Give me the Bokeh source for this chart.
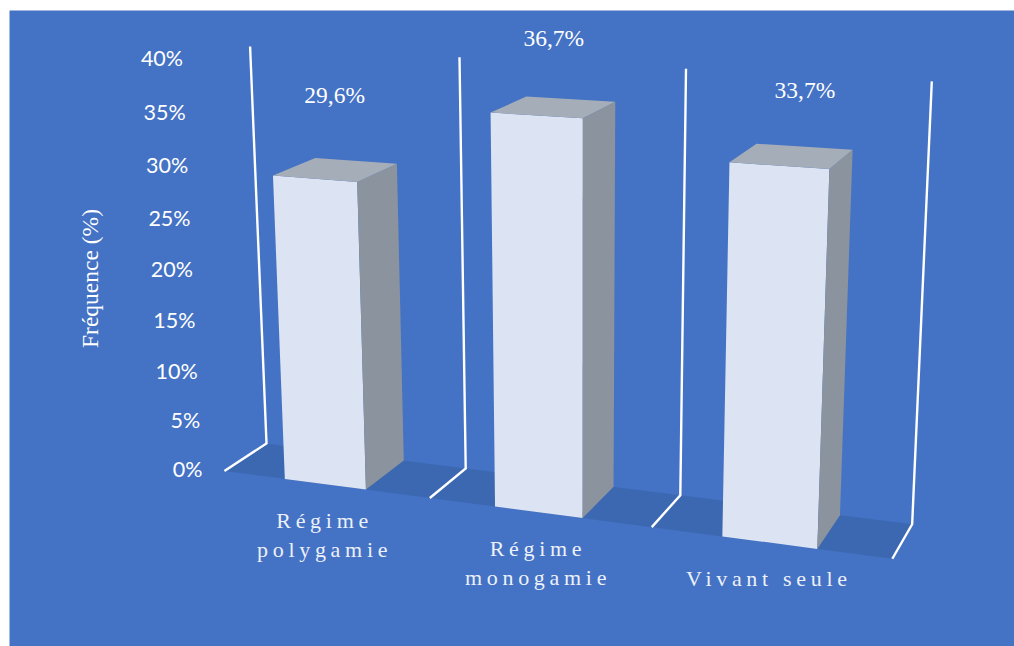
import numpy as np
from bokeh.core.properties import value
from bokeh.embed import file_html
from bokeh.models import Range1d
from bokeh.plotting import figure
from bokeh.resources import INLINE

# Chart content
CATEGORIES = ["Régime\npolygamie", "Régime\nmonogamie", "Vivant seule"]
FREQUENCIES = [29.6, 36.7, 33.7]
VALUE_LABELS = ["29,6%", "36,7%", "33,7%"]
TICK_VALUES = [0, 5, 10, 15, 20, 25, 30, 35, 40]
TICK_LABELS = ["0%", "5%", "10%", "15%", "20%", "25%", "30%", "35%", "40%"]
AXIS_TITLE = "Fréquence (%)"

# Colours
WHITE = "#FFFFFF"
PANEL = "#4472C4"
FLOOR = "#3C68B1"
FACE_FRONT = "#DCE3F2"
FACE_SIDE = "#8A939E"
FACE_TOP = "#A5ADB8"

# Camera calibration: world points (slot, percent, depth) and where the frame
# of the 3D scene falls on the page.
CALIB_WORLD = [
    (0, 0, 0), (1, 0, 0), (2, 0, 0), (3, 0, 0),
    (0, 0, 1), (1, 0, 1), (2, 0, 1), (3, 0, 1),
    (0, 40, 1), (1, 40, 1), (2, 40, 1), (3, 40, 1),
    (0, 40, 0),
]
CALIB_PAGE = [
    (223, 470), (429, 497), (652, 527), (892, 558),
    (267, 443), (465, 468), (680, 495), (911, 524),
    (249, 46), (459, 56), (686, 68), (931, 81),
    (205, 60),
]

# Bars fill this part of each slot and the whole depth of the floor
BAR_START, BAR_END = 0.302, 0.697


def fit_camera(world, page):
    rows, rhs = [], []
    for (x, y, z), (u, v) in zip(world, page):
        rows.append([x, y, z, 1, 0, 0, 0, 0, -u * x, -u * y, -u * z])
        rows.append([0, 0, 0, 0, x, y, z, 1, -v * x, -v * y, -v * z])
        rhs += [u, v]
    sol = np.linalg.lstsq(np.array(rows, float), np.array(rhs, float), rcond=None)[0]
    return np.append(sol, 1.0).reshape(3, 4)


CAMERA = fit_camera(CALIB_WORLD, CALIB_PAGE)


def project(x, y, z):
    u, v, w = CAMERA @ np.array([x, y, z, 1.0])
    return u / w, v / w


def polygon(*points):
    pts = [project(*pt) for pt in points]
    return [pt[0] for pt in pts], [pt[1] for pt in pts]


p = figure(
    width=1014, height=646,
    x_range=Range1d(0, 1014), y_range=Range1d(646, 0),
    output_backend="svg", toolbar_location=None,
    min_border=0, outline_line_color=None,
    background_fill_color=WHITE, border_fill_color=WHITE,
)
p.axis.visible = False
p.grid.visible = False

# Slide-coloured panel behind the scene
p.quad(left=9, right=1014, top=10, bottom=646, fill_color=PANEL, line_color=None)

# Floor
slots = len(CATEGORIES)
fx, fy = polygon((0, 0, 0), (0, 0, 1), (slots, 0, 1), (slots, 0, 0))
p.patch(fx, fy, fill_color=FLOOR, line_color=None)

# Wall posts with their foot on the floor
post_xs, post_ys = [], []
for s in range(slots + 1):
    xs, ys = polygon((s, 40, 1), (s, 0, 1), (s, 0, 0))
    post_xs.append(xs)
    post_ys.append(ys)
p.multi_line(post_xs, post_ys, line_color=WHITE, line_width=2.4, line_join="miter")

# Bars: front, side and top faces
for s, v in enumerate(FREQUENCIES):
    a, b = s + BAR_START, s + BAR_END
    faces = [
        (polygon((a, 0, 0), (b, 0, 0), (b, v, 0), (a, v, 0)), FACE_FRONT),
        (polygon((b, 0, 0), (b, 0, 1), (b, v, 1), (b, v, 0)), FACE_SIDE),
        (polygon((a, v, 0), (b, v, 0), (b, v, 1), (a, v, 1)), FACE_TOP),
    ]
    for (xs, ys), colour in faces:
        p.patch(xs, ys, fill_color=colour, line_color=None)

# Value labels above the centre of each top face
LABEL_SHIFT = [(-1, -75), (0, -69), (13, -66)]
for s, (v, text) in enumerate(zip(FREQUENCIES, VALUE_LABELS)):
    cx, cy = project(s + (BAR_START + BAR_END) / 2, v, 0.5)
    dx, dy = LABEL_SHIFT[s]
    p.text([cx + dx], [cy + dy], text=[text], text_color=WHITE,
           text_font=value("Liberation Serif"), text_font_size="23.5px",
           text_align="center", text_baseline="middle")

# Category names under the front of each bar
for s, name in enumerate(CATEGORIES):
    cx, cy = project(s + (BAR_START + BAR_END) / 2, 0, 0)
    for line_no, line in enumerate(name.split("\n")):
        p.text([cx - 0.5], [cy + 36 + 29 * line_no], text=[line], text_color="#EDF1F9",
               text_font=value("Liberation Serif"), text_font_size="22px",
               text_align="center", text_baseline="middle")

# Percent scale along the front-left post
for tick, text in zip(TICK_VALUES, TICK_LABELS):
    tx, ty = project(0, tick, 0)
    p.text([tx - 22], [ty - 1.5], text=[text], text_color=WHITE,
           text_font=value("Lato"), text_font_size="21.5px",
           text_align="right", text_baseline="middle")

p.text([89.5], [278], text=[AXIS_TITLE], text_color=WHITE, angle=np.pi / 2,
       text_font=value("Liberation Serif"), text_font_size="23.5px",
       text_align="center", text_baseline="middle")

# Bokeh has no letter-spacing option for text, so it is applied to the
# category labels once the SVG text nodes exist.
spaced = [line for name in CATEGORIES for line in name.split("\n")]
script = """
<script>
(function () {
  const spaced = new Set(%s);
  function walk(root, out) {
    root.querySelectorAll('*').forEach(el => {
      if (el.tagName === 'text') out.push(el);
      if (el.shadowRoot) walk(el.shadowRoot, out);
    });
    return out;
  }
  let runs = 0;
  const timer = setInterval(() => {
    walk(document, []).forEach(t => {
      if (!spaced.has(t.textContent) || t.dataset.spaced) return;
      const before = t.getComputedTextLength();
      t.setAttribute('letter-spacing', '4.7px');
      const after = t.getComputedTextLength();
      t.setAttribute('dx', String(-(after - before) / 2));
      t.dataset.spaced = '1';
    });
    if (++runs > 200) clearInterval(timer);
  }, 25);
})();
</script>
""" % repr(spaced)

html = file_html(p, INLINE).replace("</body>", script + "</body>")
open("out.html", "w").write(html)
